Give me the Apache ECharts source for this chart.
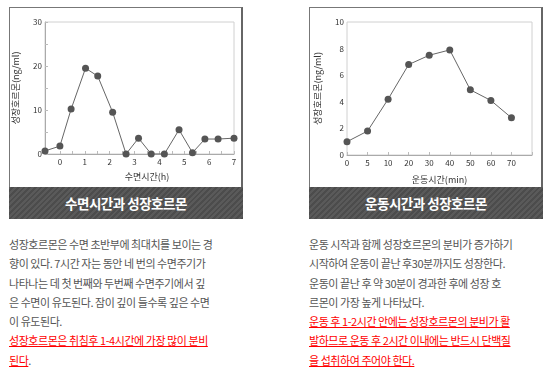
<!DOCTYPE html>
<html><head><meta charset="utf-8">
<script src="https://cdn.jsdelivr.net/npm/echarts@6/dist/echarts.min.js"></script>
<style>
body{margin:0;width:550px;height:374px;background:#fff;position:relative;overflow:hidden;font-family:"Noto Sans CJK KR",sans-serif;}
.panel{position:absolute;top:7px;width:234px;height:180px;border-top:1px solid #777;border-left:1px solid #777;border-right:2px solid #666;box-sizing:border-box;background:#fff}
.hdr{position:absolute;top:187px;height:32px;width:234px;background:repeating-linear-gradient(135deg,#5a5a5a 0 2px,#4c4c4c 2px 4px);color:#fff;font-weight:bold;font-size:13.5px;text-align:center;line-height:32px;letter-spacing:-0.5px}
#chart{position:absolute;left:0;top:0;width:550px;height:374px;z-index:2}
.txt{position:absolute;top:235px;font-size:11px;line-height:19.3px;color:#555;letter-spacing:-0.45px;white-space:nowrap}
.red{color:#f00;text-decoration:underline}
</style></head>
<body>
<div class="panel" style="left:9px"></div>
<div class="panel" style="left:309px"></div>
<div class="hdr" style="left:9px">수면시간과 성장호르몬</div>
<div class="hdr" style="left:309px">운동시간과 성장호르몬</div>
<div class="txt" style="left:9px">
성장호르몬은 수면 초반부에 최대치를 보이는 경<br>
향이 있다. 7시간 자는 동안 네 번의 수면주기가<br>
나타나는 데 첫 번째와 두번째 수면주기에서 깊<br>
은 수면이 유도된다. 잠이 깊이 들수록 깊은 수면<br>
이 유도된다.<br>
<span class="red">성장호르몬은 취침후 1-4시간에 가장 많이 분비</span><br>
<span class="red">된다</span>.
</div>
<div class="txt" style="left:309px">
운동 시작과 함께 성장호르몬의 분비가 증가하기<br>
시작하여 운동이 끝난 후30분까지도 성장한다.<br>
운동이 끝난 후 약 30분이 경과한 후에 성장 호<br>
르몬이 가장 높게 나타났다.<br>
<span class="red">운동 후 1-2시간 안에는 성장호르몬의 분비가 활</span><br>
<span class="red">발하므로 운동 후 2시간 이내에는 반드시 단백질</span><br>
<span class="red">을 섭취하여 주어야 한다.</span>
</div>
<div id="chart"></div>
<script>
// Sleep chart data
const sleepHours = [-0.6, 0, 0.45, 1.03, 1.52, 2.12, 2.66, 3.16, 3.67, 4.2, 4.79, 5.33, 5.83, 6.36, 7.0];
const sleepGH = [0.7, 1.8, 10.2, 19.5, 17.7, 9.5, 0, 3.6, 0, 0, 5.5, 0.3, 3.4, 3.4, 3.6];
// Exercise chart data
const exerciseMinutes = ['0', '5', '10', '20', '30', '40', '50', '60', '70', ''];
const exerciseGH = [1.0, 1.8, 4.2, 6.8, 7.5, 7.9, 4.9, 4.1, 2.8];

const chart = echarts.init(document.getElementById('chart'), null, {renderer: 'canvas'});
const axisCol = '#aaa', tickCol = '#bbb', labCol = '#333';
const ff = '"Noto Sans CJK KR", sans-serif';
function baseAxis() {
  return {
    axisLine: {onZero: false, lineStyle: {color: axisCol, width: 1}},
    axisTick: {inside: true, length: 3, lineStyle: {color: tickCol}},
    splitLine: {show: false},
    nameLocation: 'middle',
    nameTextStyle: {fontSize: 9, color: labCol, fontFamily: ff},
    axisLabel: {fontSize: 8, color: labCol, fontFamily: ff, margin: 4}
  };
}
const x0 = Object.assign(baseAxis(), {
  gridIndex: 0, type: 'value', min: -0.6, max: 7, splitNumber: 8,
  name: '수면시간(h)', nameGap: 18,
  minorTick: {show: true, splitNumber: 2, length: 3, lineStyle: {color: tickCol}},
  axisLabel: {fontSize: 8, color: labCol, fontFamily: ff, margin: 4,
    formatter: v => Number.isInteger(Math.round(v * 1000) / 1000) ? String(Math.round(v)) : ''}
});
x0.nameTextStyle.padding = [0, 0, 0, 15];
const y0 = Object.assign(baseAxis(), {
  gridIndex: 0, type: 'value', min: 0, max: 30, interval: 5,
  name: '성장호르몬(ng/ml)', nameGap: 25,
  axisLabel: {fontSize: 8, color: labCol, fontFamily: ff, margin: 3,
    formatter: v => v % 10 === 0 ? String(v) : ''}
});
const x1 = Object.assign(baseAxis(), {
  gridIndex: 1, type: 'category', boundaryGap: false, data: exerciseMinutes,
  name: '운동시간(min)', nameGap: 20
});
const y1 = Object.assign(baseAxis(), {
  gridIndex: 1, type: 'value', min: 0, max: 10, interval: 1,
  name: '성장호르몬(ng/ml)', nameGap: 25,
  axisLabel: {fontSize: 8, color: labCol, fontFamily: ff, margin: 3,
    formatter: v => v % 2 === 0 ? String(v) : ''}
});
const lineSeries = (xi, data) => ({
  type: 'line', xAxisIndex: xi, yAxisIndex: xi, data,
  symbol: 'circle', symbolSize: 7, showSymbol: true,
  itemStyle: {color: '#555'}, lineStyle: {color: '#666', width: 1},
  animation: false, silent: true
});
chart.setOption({
  animation: false,
  grid: [
    {left: 45, top: 22, width: 189, height: 132, show: true, borderColor: '#d0d0d0', borderWidth: 1},
    {left: 347, top: 22, width: 185, height: 133, show: true, borderColor: '#d0d0d0', borderWidth: 1}
  ],
  xAxis: [x0, x1],
  yAxis: [y0, y1],
  series: [
    lineSeries(0, sleepHours.map((h, i) => [h, sleepGH[i]])),
    lineSeries(1, exerciseGH)
  ]
});
</script>
</body></html>
